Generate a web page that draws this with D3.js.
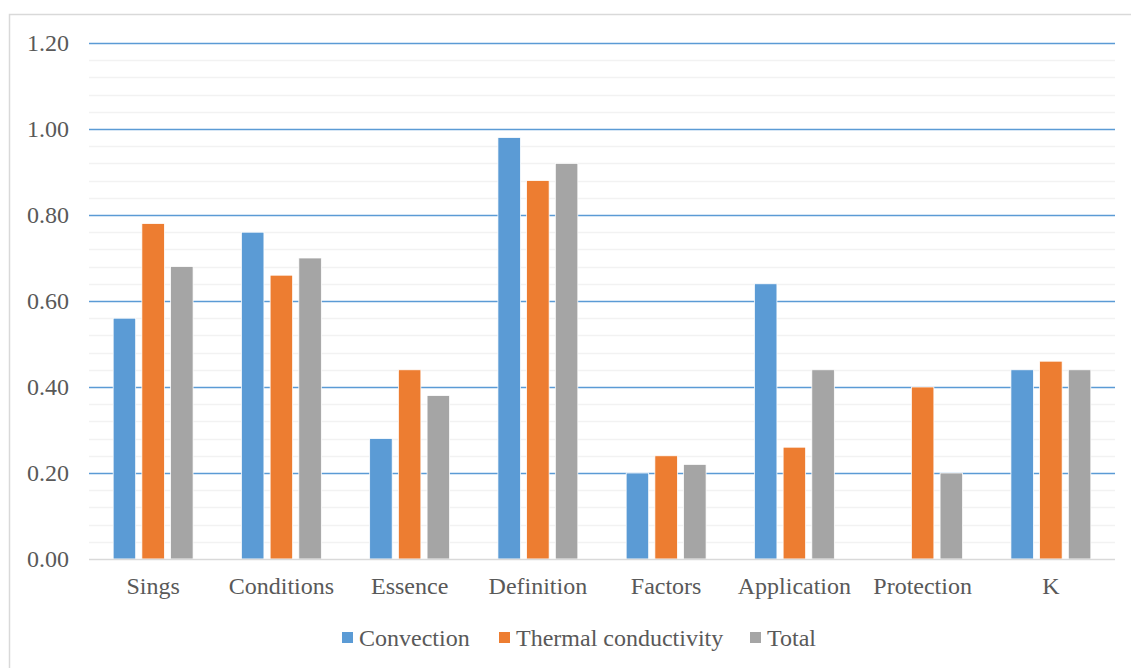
<!DOCTYPE html>
<html><head><meta charset="utf-8">
<script src="https://cdn.jsdelivr.net/npm/d3@7"></script>
<style>body{margin:0;background:#fff}svg{display:block}
svg text{font-family:"Liberation Serif","Tinos","DejaVu Serif","Times New Roman",serif !important;fill:#595959}</style>
</head><body><svg id="c" width="1131" height="668"></svg>
<script>
const categories = ["Sings","Conditions","Essence","Definition","Factors","Application","Protection","K"];
const seriesNames = ["Convection","Thermal conductivity","Total"];
const convection = [0.56,0.76,0.28,0.98,0.20,0.64,0,0.44];
const thermal = [0.78,0.66,0.44,0.88,0.24,0.26,0.40,0.46];
const total = [0.68,0.70,0.38,0.92,0.22,0.44,0.20,0.44];
const colors = ["#5B9BD5","#ED7D31","#A5A5A5"];
const yTicks = [0,0.2,0.4,0.6,0.8,1.0,1.2];
const series = [convection, thermal, total];

const svg = d3.select("#c");
svg.append("rect").attr("x",9.5).attr("y",14.5).attr("width",1140).attr("height",670).attr("fill","none").attr("stroke","#D9D9D9").attr("stroke-width",1.5);

const pL=89, pR=1115, pT=43, pB=559;
const x = d3.scaleBand().domain(categories).range([pL,pR]);
const y = d3.scaleLinear().domain([0,1.2]).range([pB,pT]);

// minor gridlines
const minor = d3.range(0,1.2001,0.04).filter(v=>Math.abs(v*5-Math.round(v*5))>1e-6);
svg.append("g").selectAll("line").data(minor).join("line")
 .attr("x1",pL).attr("x2",pR).attr("y1",d=>Math.round(y(d))+0.5).attr("y2",d=>Math.round(y(d))+0.5)
 .attr("stroke","#F2F2F2").attr("stroke-width",1.5);
// major gridlines
svg.append("g").selectAll("line").data(yTicks.slice(1)).join("line")
 .attr("x1",pL).attr("x2",pR).attr("y1",d=>Math.round(y(d))+0.5).attr("y2",d=>Math.round(y(d))+0.5)
 .attr("stroke","#5B9BD5").attr("stroke-width",1.5);

// y axis labels
const yAxis = d3.axisLeft(y).tickValues(yTicks).tickFormat(d3.format(".2f")).tickSize(0).tickPadding(20);
const ga = svg.append("g").attr("transform",`translate(${pL},0)`).call(yAxis);
ga.attr("font-family",null);
ga.select(".domain").remove();
ga.selectAll("text").style("font-size","24px");

// bars
const barW = 22.5, step = 28.7;
categories.forEach((c,i)=>{
  const cx = x(c)+x.bandwidth()/2;
  series.forEach((s,j)=>{
    const v = s[i];
    if(v<=0) return;
    svg.append("rect").attr("x",cx+(j-1)*step-barW/2).attr("y",y(v)).attr("width",barW).attr("height",pB-y(v))
      .attr("fill",colors[j]).attr("stroke","#fff").attr("stroke-width",0.75);
  });
});

// x axis line
svg.append("line").attr("x1",pL).attr("x2",pR).attr("y1",pB+0.5).attr("y2",pB+0.5).attr("stroke","#D9D9D9").attr("stroke-width",1.5);
const xAxis = d3.axisBottom(x).tickSize(0).tickPadding(18);
const gx = svg.append("g").attr("transform",`translate(0,${pB})`).call(xAxis);
gx.attr("font-family",null);
gx.select(".domain").remove();
gx.selectAll("text").style("font-size","24px");

// legend
const legX = [342,499,750];
const lg = svg.append("g");
seriesNames.forEach((n,j)=>{
  lg.append("rect").attr("x",legX[j]).attr("y",632).attr("width",11).attr("height",11).attr("fill",colors[j]);
  lg.append("text").attr("x",legX[j]+17).attr("y",646).text(n).style("font-size","24px");
});
</script></body></html>
